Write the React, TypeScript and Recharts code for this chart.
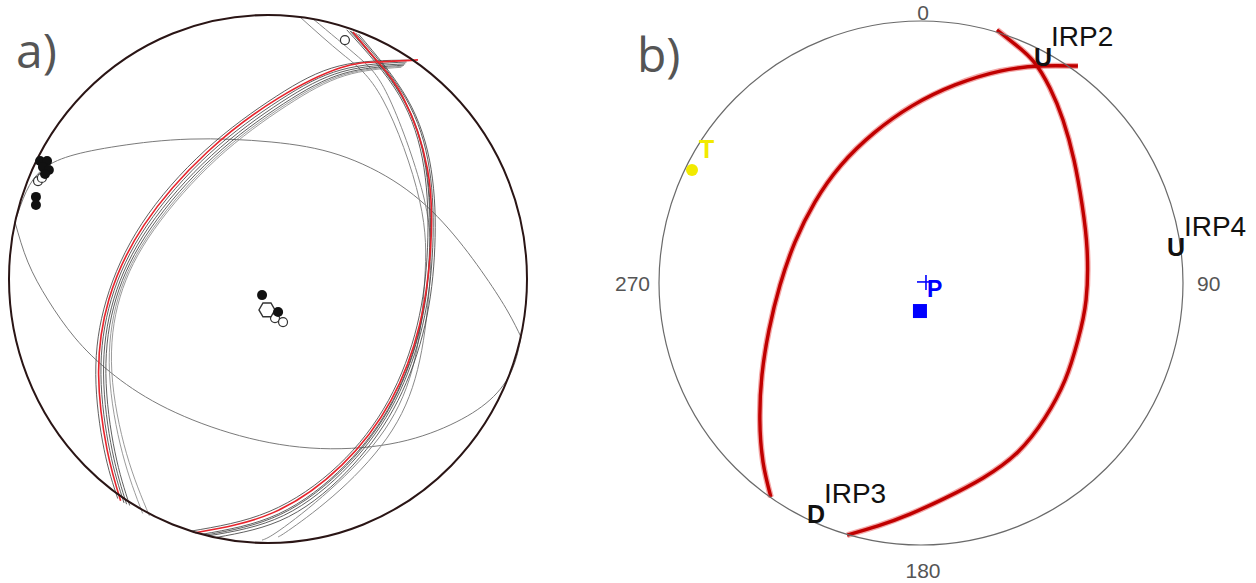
import React from "react";
import { ComposedChart, Line, Scatter, XAxis, YAxis } from "recharts";

const H = 583;

// stereonet coordinates: unit circle, x east, y north

// ---- a) ----
const redA1 = [
  [-0.569, -0.84], [-0.621, -0.648], [-0.654, -0.362], [-0.614, -0.077], [-0.478, 0.205],
  [-0.235, 0.48], [0.04, 0.685], [0.28, 0.8], [0.425, 0.822], [0.579, 0.83],
];
const redA2 = [
  [0.328, 0.936], [0.425, 0.822], [0.521, 0.689], [0.615, 0.42], [0.628, 0.12],
  [0.585, -0.175], [0.475, -0.46], [0.285, -0.705], [0.02, -0.885], [-0.281, -0.961],
];
const grayA = [
  [[-0.556, -0.848], [-0.611, -0.65], [-0.645, -0.362], [-0.605, -0.077], [-0.469, 0.201], [-0.227, 0.474], [0.046, 0.678], [0.282, 0.792], [0.535, 0.822]],
  [[-0.546, -0.853], [-0.601, -0.652], [-0.635, -0.36], [-0.595, -0.075], [-0.46, 0.197], [-0.218, 0.468], [0.053, 0.671], [0.286, 0.785], [0.53, 0.815]],
  [[-0.534, -0.858], [-0.591, -0.655], [-0.626, -0.358], [-0.586, -0.072], [-0.452, 0.193], [-0.211, 0.462], [0.06, 0.664], [0.29, 0.778], [0.525, 0.81]],
  [[-0.58, -0.832], [-0.633, -0.645], [-0.665, -0.362], [-0.624, -0.079], [-0.487, 0.21], [-0.243, 0.487], [0.032, 0.692], [0.275, 0.807], [0.547, 0.829]],
  [[-0.484, -0.888], [-0.562, -0.66], [-0.612, -0.355], [-0.578, -0.07], [-0.445, 0.19], [-0.204, 0.458], [0.066, 0.66], [0.293, 0.774], [0.52, 0.806]],
  [[-0.458, -0.897], [-0.546, -0.662], [-0.603, -0.352], [-0.571, -0.068], [-0.44, 0.187], [-0.199, 0.454], [0.071, 0.656], [0.296, 0.77], [0.515, 0.802]],
];
const grayB = [
  [[0.316, 0.94], [0.515, 0.692], [0.609, 0.421], [0.624, 0.12], [0.588, -0.175], [0.482, -0.46], [0.298, -0.705], [0.04, -0.89], [-0.255, -0.967]],
  [[0.338, 0.932], [0.531, 0.686], [0.623, 0.418], [0.636, 0.12], [0.597, -0.175], [0.492, -0.46], [0.314, -0.705], [0.06, -0.896], [-0.23, -0.973]],
  [[0.304, 0.944], [0.507, 0.695], [0.602, 0.422], [0.616, 0.12], [0.576, -0.175], [0.465, -0.46], [0.272, -0.705], [0.004, -0.881], [-0.298, -0.955]],
  [[0.35, 0.927], [0.538, 0.682], [0.63, 0.415], [0.644, 0.12], [0.606, -0.175], [0.502, -0.46], [0.328, -0.705], [0.08, -0.9], [-0.2, -0.979]],
  [[0.322, 0.938], [0.519, 0.69], [0.612, 0.42], [0.626, 0.12], [0.59, -0.175], [0.485, -0.46], [0.304, -0.705], [0.048, -0.892], [-0.24, -0.97]],
];
const thinB = [
  [[0.124, 0.992], [0.29, 0.85], [0.444, 0.678], [0.585, 0.299], [0.605, -0.004], [0.566, -0.307], [0.45, -0.572], [0.239, -0.799], [0.046, -0.951], [-0.023, -0.989]],
  [[0.174, 0.985], [0.35, 0.84], [0.471, 0.678], [0.604, 0.299], [0.625, -0.004], [0.586, -0.307], [0.48, -0.572], [0.278, -0.799], [0.093, -0.943], [0.039, -0.977]],
];
const lensUpper = [
  [-0.977, 0.216], [-0.934, 0.33], [-0.873, 0.413], [-0.764, 0.466], [-0.575, 0.504], [-0.301, 0.53],
  [0.012, 0.519], [0.274, 0.47], [0.51, 0.356], [0.695, 0.193], [0.838, 0.011], [0.927, -0.125], [0.977, -0.22],
];
const lensLower = [
  [-0.977, 0.216], [-0.927, 0.064], [-0.849, -0.08], [-0.745, -0.223], [-0.61, -0.352], [-0.417, -0.477],
  [-0.147, -0.583], [0.162, -0.64], [0.471, -0.625], [0.703, -0.553], [0.857, -0.458], [0.942, -0.345], [0.977, -0.22],
];
const solidDotsA = [
  [-0.88, 0.447], [-0.853, 0.447], [-0.869, 0.424], [-0.846, 0.413], [-0.861, 0.398],
  [-0.896, 0.311], [-0.896, 0.28], [-0.023, -0.061], [0.039, -0.125],
];
const openDotsA = [
  [-0.888, 0.371], [-0.873, 0.383], [0.027, -0.148], [0.058, -0.163], [0.297, 0.905],
];
const hexDotsA = [[-0.004, -0.117]];

// ---- b) ----
const planeB1 = [
  [0.29, 0.966], [0.363, 0.908], [0.431, 0.844], [0.492, 0.744], [0.542, 0.622], [0.584, 0.469],
  [0.615, 0.298], [0.634, 0.126], [0.63, -0.065], [0.599, -0.218], [0.55, -0.37], [0.473, -0.515],
  [0.37, -0.645], [0.237, -0.744], [0.092, -0.821], [-0.042, -0.882], [-0.164, -0.927], [-0.282, -0.962],
];
const planeB2 = [
  [0.599, 0.828], [0.454, 0.828], [0.302, 0.809], [0.13, 0.756], [-0.034, 0.676], [-0.179, 0.573],
  [-0.305, 0.45], [-0.405, 0.309], [-0.481, 0.156], [-0.538, -0.008], [-0.58, -0.179], [-0.607, -0.351],
  [-0.615, -0.523], [-0.603, -0.683], [-0.573, -0.817],
];
const polarityNames = ["IRP2", "IRP4", "IRP3"];
const polaritySigns = ["U", "U", "D"];
const polarityPos = [[0.466, 0.863], [0.973, 0.137], [-0.401, -0.882]];
const tAxis = [[-0.874, 0.431]];
const pAxis = [[0.019, 0.004]];
const squareB = [[-0.004, -0.107]];
const azimuthTicks = [0, 90, 180, 270];

const toPts = (rows: number[][]) => rows.map(([x, y]) => ({ x, y }));

const FONT = "'Liberation Sans', Arial, sans-serif";

type NetProps = { left: number; width: number; cx: number; cy: number; rx: number; ry: number; children: React.ReactNode };

function Net({ left, width, cx, cy, rx, ry, children }: NetProps) {
  return (
    <div style={{ position: "absolute", left, top: 0 }}>
      <ComposedChart width={width} height={H} margin={{ top: 0, right: 0, bottom: 0, left: 0 }}>
        <XAxis type="number" dataKey="x" domain={[-cx / rx, (width - cx) / rx]} hide allowDataOverflow />
        <YAxis type="number" dataKey="y" domain={[-(H - cy) / ry, cy / ry]} hide allowDataOverflow />
        {children}
      </ComposedChart>
    </div>
  );
}

const curve = (key: string, rows: number[][], stroke: string, width: number, opacity = 1) => (
  <Line
    key={key}
    data={toPts(rows)}
    dataKey="y"
    type="natural"
    stroke={stroke}
    strokeWidth={width}
    strokeOpacity={opacity}
    dot={false}
    activeDot={false}
    isAnimationActive={false}
  />
);

const primitive = (rx: number, ry: number, stroke: string, width: number) => (
  <Scatter
    data={[{ x: 0, y: 0 }]}
    isAnimationActive={false}
    shape={(p: any) => <ellipse cx={p.cx} cy={p.cy} rx={rx} ry={ry} fill="none" stroke={stroke} strokeWidth={width} />}
  />
);

const hexagon = (cx: number, cy: number, r: number) =>
  [0, 1, 2, 3, 4, 5]
    .map((i) => {
      const a = (Math.PI / 3) * i;
      return `${cx + r * Math.cos(a)},${cy + r * Math.sin(a)}`;
    })
    .join(" ");

export default function App() {
  const polarity = polarityPos.map(([x, y], i) => ({ x, y, sign: polaritySigns[i], name: polarityNames[i] }));
  const azLabels = azimuthTicks.map((az) => ({
    x: Math.sin((az * Math.PI) / 180),
    y: Math.cos((az * Math.PI) / 180),
    az,
  }));

  return (
    <div style={{ position: "absolute", left: 0, top: 0, width: 1256, height: H, background: "#fff" }}>
      <Net left={0} width={560} cx={268} cy={279} rx={259} ry={264}>
        {primitive(259, 264, "#2a1515", 2)}
        {curve("lu", lensUpper, "#7a7a7a", 1)}
        {curve("ll", lensLower, "#7a7a7a", 1)}
        {thinB.map((c, i) => curve(`tb${i}`, c, "#8a8a8a", 1))}
        {grayA.map((c, i) => curve(`ga${i}`, c, i < 4 ? "#444" : "#8a8a8a", 1, 0.85))}
        {grayB.map((c, i) => curve(`gb${i}`, c, "#444", 1, 0.85))}
        {curve("ra1", redA1, "#e8232b", 1.6)}
        {curve("ra2", redA2, "#e8232b", 1.6)}
        <Scatter
          data={toPts(openDotsA)}
          isAnimationActive={false}
          shape={(p: any) => <circle cx={p.cx} cy={p.cy} r={4.5} fill="#fff" stroke="#333" strokeWidth={1.2} />}
        />
        <Scatter
          data={toPts(hexDotsA)}
          isAnimationActive={false}
          shape={(p: any) => <polygon points={hexagon(p.cx, p.cy, 8)} fill="#fff" stroke="#333" strokeWidth={1.4} />}
        />
        <Scatter
          data={toPts(solidDotsA)}
          isAnimationActive={false}
          shape={(p: any) => <circle cx={p.cx} cy={p.cy} r={5} fill="#111" />}
        />
      </Net>

      <Net left={580} width={676} cx={341} cy={283} rx={262} ry={262}>
        {primitive(262, 262, "#6a6a6a", 1.2)}
        {curve("b1u", planeB1, "#e53b3b", 6, 0.45)}
        {curve("b2u", planeB2, "#e53b3b", 6, 0.45)}
        {curve("b1", planeB1, "#c00000", 3.4)}
        {curve("b2", planeB2, "#c00000", 3.4)}
        <Scatter
          data={azLabels}
          isAnimationActive={false}
          shape={(p: any) => {
            const az = p.payload.az;
            const dx = az === 90 ? 14 : az === 270 ? -9 : 2;
            const dy = az === 0 ? -1 : az === 180 ? 33 : 8;
            const anchor = az === 90 ? "start" : az === 270 ? "end" : "middle";
            return (
              <text x={p.cx + dx} y={p.cy + dy} textAnchor={anchor} fontFamily={FONT} fontSize={21} fill="#555">
                {az}
              </text>
            );
          }}
        />
        <Scatter
          data={polarity}
          isAnimationActive={false}
          shape={(p: any) => (
            <g>
              <text x={p.cx} y={p.cy + 9} textAnchor="middle" fontFamily={FONT} fontWeight="bold" fontSize={25} fill="#111">
                {p.payload.sign}
              </text>
              <text x={p.cx + 8} y={p.cy - 11} fontFamily={FONT} fontSize={28} fill="#111">
                {p.payload.name}
              </text>
            </g>
          )}
        />
        <Scatter
          data={toPts(tAxis)}
          isAnimationActive={false}
          shape={(p: any) => (
            <g>
              <circle cx={p.cx} cy={p.cy} r={6} fill="#f2ea00" />
              <text x={p.cx + 7} y={p.cy - 12} fontFamily={FONT} fontWeight="bold" fontSize={25} fill="#f2ea00">
                T
              </text>
            </g>
          )}
        />
        <Scatter
          data={toPts(pAxis)}
          isAnimationActive={false}
          shape={(p: any) => (
            <g>
              <line x1={p.cx - 9} y1={p.cy} x2={p.cx + 6} y2={p.cy} stroke="#0000ff" strokeWidth={1.6} />
              <line x1={p.cx} y1={p.cy - 7} x2={p.cx} y2={p.cy + 8} stroke="#0000ff" strokeWidth={1.6} />
              <text x={p.cx + 1} y={p.cy + 15} fontFamily={FONT} fontWeight="bold" fontSize={23} fill="#0000ff">
                P
              </text>
            </g>
          )}
        />
        <Scatter
          data={toPts(squareB)}
          isAnimationActive={false}
          shape={(p: any) => <rect x={p.cx - 7} y={p.cy - 7} width={14} height={14} fill="#0000ff" />}
        />
      </Net>

      <svg width={1256} height={H} style={{ position: "absolute", left: 0, top: 0, pointerEvents: "none" }}>
        <text x={16} y={68} fontFamily="'Open Sans', sans-serif" fontSize={48} fill="#555">
          a)
        </text>
        <text x={637} y={72} fontFamily="'Open Sans', sans-serif" fontSize={48} fill="#555">
          b)
        </text>
      </svg>
    </div>
  );
}
